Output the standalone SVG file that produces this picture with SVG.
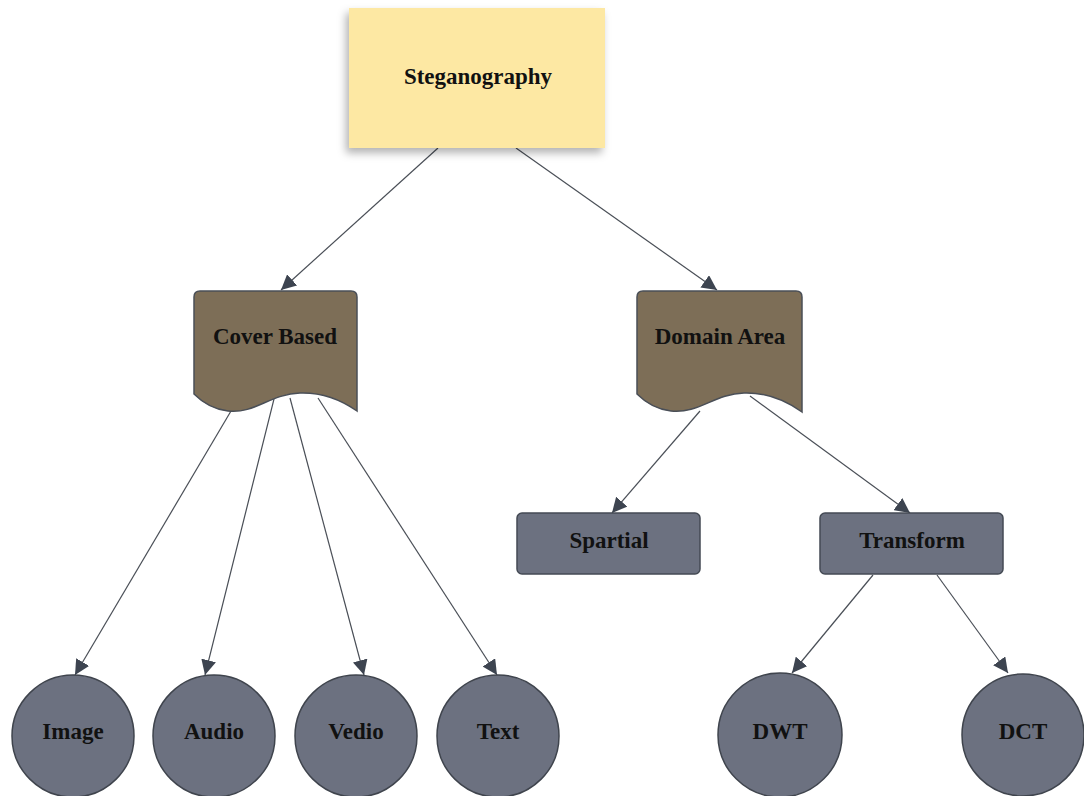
<svg xmlns="http://www.w3.org/2000/svg" width="1084" height="796" viewBox="0 0 1084 796">
<style>
.t{font-family:"Liberation Serif","Times New Roman",serif;font-weight:bold;font-size:23px;fill:#111;text-anchor:middle;dominant-baseline:central}
.doc{fill:#7D6E57;stroke:#4A4F57;stroke-width:1.5}
.box{fill:#6C7180;stroke:#444a54;stroke-width:1.5}
.circ{fill:#6C7180;stroke:#3f444d;stroke-width:1.5}
.c{stroke:#4A4F57;stroke-width:1.2;fill:none;marker-end:url(#ah)}
</style>
<defs>
<marker id="ah" viewBox="0 0 10 10" refX="10" refY="5" markerWidth="15" markerHeight="15" markerUnits="userSpaceOnUse" orient="auto">
<path d="M0,0 L10,5 L0,10 Z" fill="#3D4450"/>
</marker>
<filter id="sh" x="-10%" y="-10%" width="120%" height="130%">
<feDropShadow dx="-3" dy="5" stdDeviation="4" flood-color="#000" flood-opacity="0.3"/>
</filter>
</defs>
<rect width="1084" height="796" fill="#fff"/>
<g id="connectors">
<line class="c" x1="438" y1="148" x2="281" y2="290"/>
<line class="c" x1="516" y1="148" x2="717" y2="290"/>
<line class="c" x1="231" y1="411" x2="75" y2="675"/>
<line class="c" x1="274" y1="399" x2="205" y2="675"/>
<line class="c" x1="290" y1="398" x2="364" y2="675"/>
<line class="c" x1="318" y1="398" x2="497" y2="675"/>
<line class="c" x1="700" y1="411" x2="612" y2="513"/>
<line class="c" x1="750" y1="396" x2="910" y2="513"/>
<line class="c" x1="873" y1="575" x2="792" y2="673"/>
<line class="c" x1="937" y1="575" x2="1008" y2="673"/>
</g>
<g id="steganography">
<rect x="349" y="8" width="256" height="140" fill="#FDE8A3" filter="url(#sh)"/>
<text class="t" x="478" y="76">Steganography</text>
</g>
<g id="cover-based">
<path class="doc" d="M200,291 H351 Q357,291 357,297 V411 Q330,392 300,393 C270,394 255,414 228,411 C210,409 200,400 194,394 V297 Q194,291 200,291 Z"/>
<text class="t" x="275" y="336">Cover Based</text>
</g>
<g id="domain-area">
<path class="doc" d="M643,291 H796 Q802,291 802,297 V412 Q774,392 744,393 C714,394 699,414 671,411 C653,409 643,400 637,394 V297 Q637,291 643,291 Z"/>
<text class="t" x="720" y="336">Domain Area</text>
</g>
<g id="spartial">
<rect class="box" x="517" y="513" width="183" height="61" rx="5"/>
<text class="t" x="609" y="540">Spartial</text>
</g>
<g id="transform">
<rect class="box" x="820" y="513" width="183" height="61" rx="5"/>
<text class="t" x="912" y="540">Transform</text>
</g>
<g id="image"><circle class="circ" cx="73" cy="736" r="61"/><text class="t" x="73" y="731">Image</text></g>
<g id="audio"><circle class="circ" cx="214" cy="736" r="61"/><text class="t" x="214" y="731">Audio</text></g>
<g id="vedio"><circle class="circ" cx="356" cy="736" r="61"/><text class="t" x="356" y="731">Vedio</text></g>
<g id="text"><circle class="circ" cx="498" cy="736" r="61"/><text class="t" x="498" y="731">Text</text></g>
<g id="dwt"><circle class="circ" cx="780" cy="735" r="62"/><text class="t" x="780" y="731">DWT</text></g>
<g id="dct"><circle class="circ" cx="1023" cy="735" r="61"/><text class="t" x="1023" y="731">DCT</text></g>
</svg>
